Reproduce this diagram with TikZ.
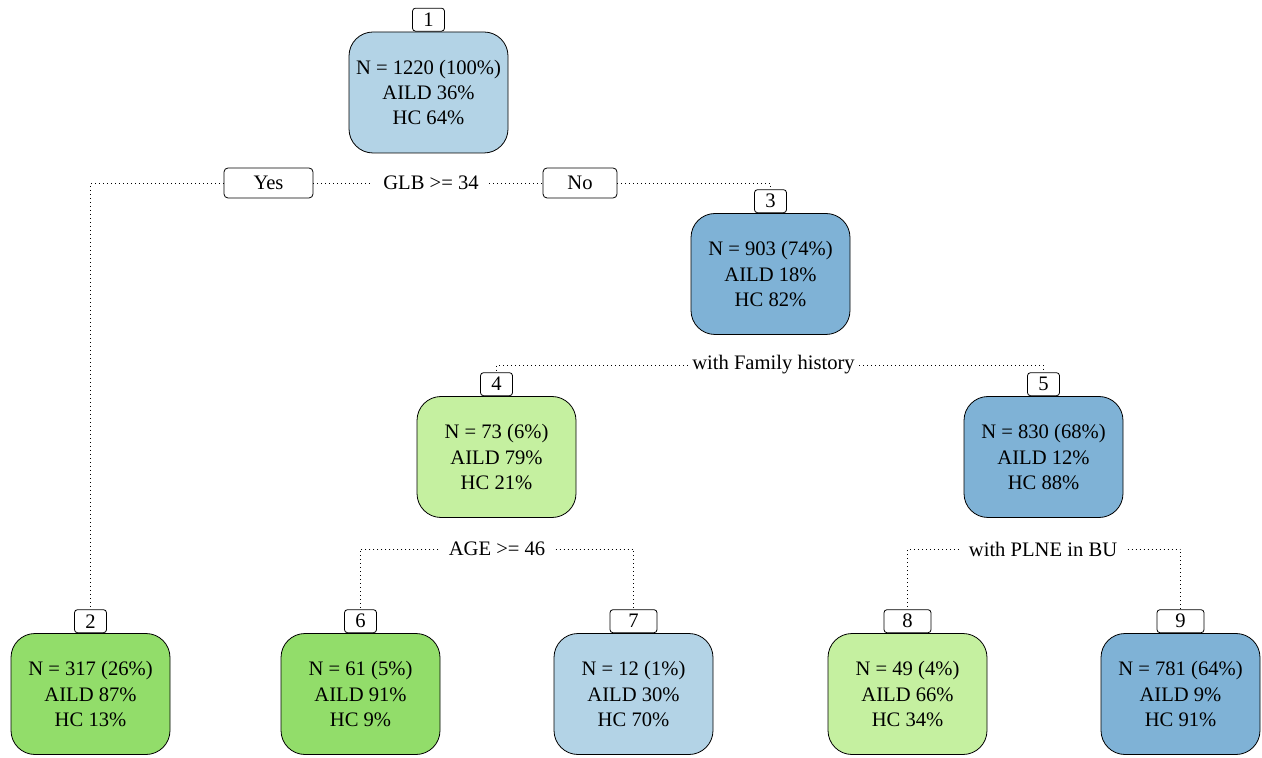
\documentclass[tikz,border=0pt]{standalone}
\usepackage{fontspec}
\setmainfont{Liberation Serif}
\definecolor{bluelight}{RGB}{179,211,230}
\definecolor{bluemid}{RGB}{127,178,214}
\definecolor{greenlight}{RGB}{197,240,160}
\definecolor{greenmid}{RGB}{146,221,106}
\begin{document}
\begin{tikzpicture}[x=0.5pt, y=-0.5pt,
    every node/.style={font=\fontsize{10.3}{12.7}\selectfont},
    leaf/.style={draw, thin, rounded corners=12pt, minimum width=79.5pt,
        minimum height=60.5pt, align=center},
    tag/.style={draw, thin, rounded corners=1.5pt, fill=white, inner sep=0pt,
        minimum width=16pt, minimum height=11.5pt, anchor=south},
    wtag/.style={tag, minimum width=23.5pt},
    answer/.style={draw, thin, rounded corners=2pt, inner sep=0pt,
        minimum height=15pt},
    split/.style={inner xsep=5pt, inner ysep=3pt},
    link/.style={thin, dash pattern=on 0.5pt off 1.5pt}]
    \useasboundingbox (0,0) rectangle (1262,758);
    % boxes
    \node[leaf, fill=bluelight] (n1) at (428.5,92.5) {N = 1220 (100\%)\\AILD 36\%\\HC 64\%};
    \node[leaf, fill=bluemid] (n3) at (770.5,274) {N = 903 (74\%)\\AILD 18\%\\HC 82\%};
    \node[leaf, fill=greenlight] (n4) at (496.5,457) {N = 73 (6\%)\\AILD 79\%\\HC 21\%};
    \node[leaf, fill=bluemid] (n5) at (1043.5,457) {N = 830 (68\%)\\AILD 12\%\\HC 88\%};
    \node[leaf, fill=greenmid] (n2) at (90.5,694) {N = 317 (26\%)\\AILD 87\%\\HC 13\%};
    \node[leaf, fill=greenmid] (n6) at (360.5,694) {N = 61 (5\%)\\AILD 91\%\\HC 9\%};
    \node[leaf, fill=bluelight] (n7) at (633.5,694) {N = 12 (1\%)\\AILD 30\%\\HC 70\%};
    \node[leaf, fill=greenlight] (n8) at (907.5,694) {N = 49 (4\%)\\AILD 66\%\\HC 34\%};
    \node[leaf, fill=bluemid] (n9) at (1180.5,694) {N = 781 (64\%)\\AILD 9\%\\HC 91\%};
    % numbers
    \node[tag] (t1) at (n1.north) {1};
    \node[tag] (t2) at (n2.north) {2};
    \node[tag] (t3) at (n3.north) {3};
    \node[tag] (t4) at (n4.north) {4};
    \node[tag] (t5) at (n5.north) {5};
    \node[tag] (t6) at (n6.north) {6};
    \node[wtag] (t7) at (n7.north) {7};
    \node[wtag] (t8) at (n8.north) {8};
    \node[wtag] (t9) at (n9.north) {9};
    % split labels
    \node[split] (s1) at (431,183) {GLB >= 34};
    \node[answer, minimum width=44.5pt] (yes) at (268.5,183) {Yes};
    \node[answer, minimum width=37pt] (no) at (580,183) {No};
    \node[split, inner xsep=2pt] (s3) at (773.5,365) {with Family history};
    \node[split] (s4) at (497,549) {AGE >= 46};
    \node[split] (s5) at (1043,549) {with PLNE in BU};
    % corners
    \coordinate (c2) at (t2.north |- s1);
    \coordinate (c3) at (t3.north |- s1);
    \coordinate (c4) at (t4.north |- s3);
    \coordinate (c5) at (t5.north |- s3);
    \coordinate (c6) at (t6.north |- s4);
    \coordinate (c7) at (t7.north |- s4);
    \coordinate (c8) at (t8.north |- s5);
    \coordinate (c9) at (t9.north |- s5);
    \draw[link] (yes.west) -- (c2) -- (t2.north);
    \draw[link] (yes.east) -- (s1.west);
    \draw[link] (s1.east) -- (no.west);
    \draw[link] (no.east) -- (c3) -- (t3.north);
    \draw[link] (s3.west) -- (c4) -- (t4.north);
    \draw[link] (s3.east) -- (c5) -- (t5.north);
    \draw[link] (s4.west) -- (c6) -- (t6.north);
    \draw[link] (s4.east) -- (c7) -- (t7.north);
    \draw[link] (s5.west) -- (c8) -- (t8.north);
    \draw[link] (s5.east) -- (c9) -- (t9.north);
\end{tikzpicture}
\end{document}
